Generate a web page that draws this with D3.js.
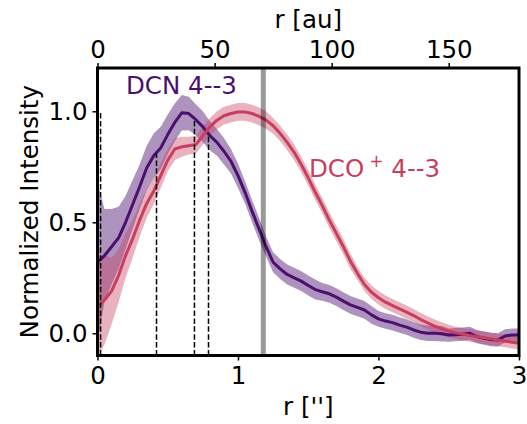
<!DOCTYPE html>
<html><head><meta charset="utf-8">
<script src="https://cdn.jsdelivr.net/npm/d3@7"></script>
<style>body{margin:0;background:#fff}svg{display:block}text{font-family:"DejaVu Sans",sans-serif}</style>
</head><body>
<svg id="c" width="527" height="424"></svg>
<script>
// radius grid in arcsec
const radius = [0.00,0.05,0.10,0.15,0.20,0.25,0.30,0.35,0.40,0.45,0.50,0.55,0.60,0.65,0.70,0.75,0.80,0.85,0.90,0.95,
1.00,1.05,1.10,1.15,1.20,1.25,1.30,1.35,1.40,1.45,1.50,1.55,1.60,1.65,1.70,1.75,1.80,1.85,1.90,1.95,
2.00,2.05,2.10,2.15,2.20,2.25,2.30,2.35,2.40,2.45,2.50,2.55,2.60,2.65,2.70,2.75,2.80,2.85,2.90,2.95,3.00];
const dcnValues = [0.32,0.35,0.39,0.43,0.50,0.58,0.66,0.745,0.80,0.835,0.895,0.95,0.993,0.99,0.962,0.93,0.89,0.86,0.82,0.775,
0.71,0.635,0.55,0.47,0.39,0.32,0.29,0.265,0.25,0.235,0.215,0.197,0.187,0.178,0.163,0.145,0.128,0.117,0.105,0.083,
0.065,0.055,0.048,0.037,0.028,0.015,0.005,0.0,0.0,-0.002,-0.008,-0.006,-0.004,0.0,-0.015,-0.022,-0.028,-0.03,-0.012,-0.008,-0.008];
const dcnErr = [0.36,0.21,0.17,0.14,0.12,0.11,0.10,0.10,0.10,0.095,0.09,0.085,0.08,0.075,0.07,0.07,0.065,0.06,0.06,0.055,
0.055,0.05,0.05,0.05,0.045,0.045,0.045,0.045,0.045,0.045,0.045,0.045,0.04,0.04,0.04,0.04,0.04,0.04,0.04,0.04,
0.035,0.035,0.035,0.035,0.035,0.035,0.035,0.035,0.035,0.035,0.03,0.03,0.03,0.03,0.03,0.03,0.03,0.03,0.03,0.03,0.03];
const dcoValues = [0.12,0.15,0.19,0.26,0.35,0.425,0.51,0.585,0.64,0.71,0.78,0.83,0.84,0.845,0.85,0.89,0.93,0.96,0.98,0.99,
0.997,0.997,0.99,0.977,0.96,0.935,0.90,0.86,0.815,0.76,0.70,0.635,0.575,0.51,0.45,0.39,0.325,0.27,0.22,0.185,
0.16,0.14,0.125,0.11,0.095,0.08,0.062,0.047,0.032,0.02,0.01,0.002,-0.004,-0.01,-0.015,-0.02,-0.025,-0.03,-0.035,-0.04,-0.045];
const dcoErr = [0.23,0.20,0.15,0.12,0.10,0.085,0.075,0.065,0.06,0.055,0.05,0.05,0.045,0.04,0.04,0.04,0.04,0.04,0.04,0.04,
0.04,0.04,0.04,0.04,0.04,0.035,0.035,0.035,0.035,0.035,0.035,0.035,0.035,0.035,0.035,0.035,0.035,0.03,0.03,0.03,
0.03,0.03,0.03,0.03,0.03,0.03,0.03,0.03,0.03,0.03,0.028,0.028,0.028,0.028,0.028,0.028,0.028,0.028,0.028,0.028,0.028];
const ringX = [0.022,0.42,0.69,0.79];
const ringTop = [1.0,0.81,0.96,0.885];
const grayX = 1.18;
const xTicks = [0,1,2,3];
const yTicks = [0.0,0.5,1.0];
const auTicks = [0,50,100,150];
const auPerArcsec = 60;

const dcnColor = "#4b0f6e", dcoColor = "#c73e5e";
const svg = d3.select("#c");
const L=97.5, R=519, T=68, B=355.5;
const x = d3.scaleLinear().domain([0,3]).range([L,R]);
const y = d3.scaleLinear().domain([-0.1,1.195]).range([B,T]);
const xau = d3.scaleLinear().domain([0,3*auPerArcsec]).range([L,R]);

svg.append("clipPath").attr("id","clip").append("rect")
  .attr("x",L).attr("y",T).attr("width",R-L).attr("height",B-T);
const g = svg.append("g").attr("clip-path","url(#clip)");

function series(vals, err){ return radius.map((r,i)=>({r, v:vals[i], e:err[i]})); }
const dcn = series(dcnValues, dcnErr), dco = series(dcoValues, dcoErr);
const area = d3.area().x(d=>x(d.r)).y0(d=>y(d.v-d.e)).y1(d=>y(d.v+d.e));
const line = d3.line().x(d=>x(d.r)).y(d=>y(d.v));

g.append("path").datum(dcn).attr("d",area).attr("fill",dcnColor).attr("fill-opacity",0.45);
g.append("path").datum(dco).attr("d",area).attr("fill",dcoColor).attr("fill-opacity",0.4);
g.append("path").datum(dcn).attr("d",line).attr("fill","none").attr("stroke",dcnColor).attr("stroke-width",3).attr("stroke-linejoin","round");
g.append("path").datum(dco).attr("d",line).attr("fill","none").attr("stroke",dcoColor).attr("stroke-width",3).attr("stroke-linejoin","round");

ringX.forEach((rx,i)=>{
  g.append("line").attr("x1",x(rx)).attr("x2",x(rx)).attr("y1",y(-0.1)).attr("y2",y(ringTop[i]))
   .attr("stroke","#000").attr("stroke-width",1.5).attr("stroke-dasharray","5.5,2.4");
});
g.append("line").attr("x1",x(grayX)).attr("x2",x(grayX)).attr("y1",T).attr("y2",B)
  .attr("stroke","#000").attr("stroke-opacity",0.4).attr("stroke-width",5);

// axes
const fs = "24.5px";
const bx = svg.append("g").attr("transform",`translate(0,${B})`)
  .call(d3.axisBottom(x).tickValues(xTicks).tickFormat(d3.format("d")).tickSize(5).tickPadding(6));
const ly = svg.append("g").attr("transform",`translate(${L},0)`)
  .call(d3.axisLeft(y).tickValues(yTicks).tickFormat(d3.format(".1f")).tickSize(5).tickPadding(5));
const tx = svg.append("g").attr("transform",`translate(0,${T})`)
  .call(d3.axisTop(xau).tickValues(auTicks).tickFormat(d3.format("d")).tickSize(5).tickPadding(5));
[bx,ly,tx].forEach(a=>{
  a.select(".domain").remove();
  a.selectAll(".tick line").attr("stroke","#000").attr("stroke-width",1.5);
  a.selectAll(".tick text").attr("font-size",fs).attr("fill","#000").attr("font-family","DejaVu Sans");
});
svg.append("rect").attr("x",L).attr("y",T).attr("width",R-L).attr("height",B-T)
  .attr("fill","none").attr("stroke","#000").attr("stroke-width",3);

svg.append("text").attr("x",(L+R)/2).attr("y",415).attr("text-anchor","middle").attr("font-size",fs).text("r ['']");
svg.append("text").attr("x",(L+R)/2).attr("y",28).attr("text-anchor","middle").attr("font-size",fs).text("r [au]");
svg.append("text").attr("transform",`translate(38,${(T+B)/2}) rotate(-90)`).attr("text-anchor","middle")
  .attr("font-size",fs).text("Normalized Intensity");

svg.append("text").attr("x",126).attr("y",94).attr("font-size",fs).attr("fill",dcnColor).text("DCN 4--3");
const t2 = svg.append("text").attr("x",309).attr("y",177).attr("font-size",fs).attr("fill",dcoColor);
t2.append("tspan").text("DCO");
t2.append("tspan").attr("dx",5).attr("dy",-10).attr("font-size","17px").text("+");
t2.append("tspan").attr("dy",10).text(" 4--3");
</script>
</body></html>
